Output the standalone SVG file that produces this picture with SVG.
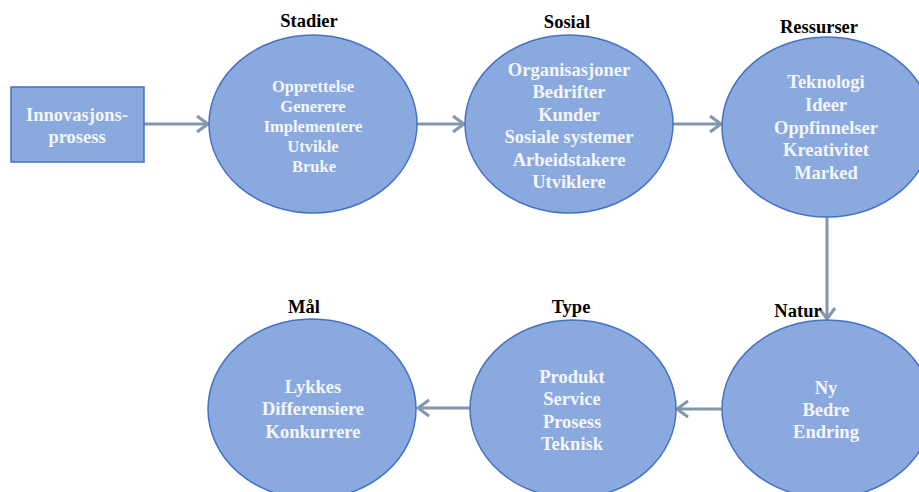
<svg xmlns="http://www.w3.org/2000/svg" width="919" height="492" viewBox="0 0 919 492">
<defs>
<marker id="arr" markerUnits="userSpaceOnUse" markerWidth="16" markerHeight="20" refX="12" refY="9" orient="auto" overflow="visible">
<path d="M1,1 L12,9 L1,17" fill="none" stroke="#8595AD" stroke-width="3" stroke-linejoin="miter"/>
</marker>
</defs>
<style>
.shape{fill:#8AA9DF;stroke:#4472C4;stroke-width:1.5}
.in{font-family:"Liberation Serif",serif;font-weight:bold;font-size:18.5px;fill:#F4F6FA;text-anchor:middle}
.sm{font-size:16.5px}
.lab{font-family:"Liberation Serif",serif;font-weight:bold;font-size:18.5px;fill:#000;text-anchor:middle}
.con{stroke:#8595AD;stroke-width:3;fill:none;marker-end:url(#arr)}
</style>
<rect width="919" height="492" fill="#fff"/>
<g id="connectors">
<line class="con" x1="144" y1="124" x2="208" y2="124"/>
<line class="con" x1="417" y1="124" x2="464" y2="124"/>
<line class="con" x1="673" y1="124" x2="721" y2="124"/>
<line class="con" x1="827" y1="217" x2="827" y2="319"/>
<line class="con" x1="722" y1="409" x2="677" y2="409"/>
<line class="con" x1="470" y1="408" x2="418" y2="408"/>
</g>
<g id="start">
<rect class="shape" x="11" y="87" width="133" height="75"/>
<text class="in" x="77" y="121">Innovasjons-</text>
<text class="in" x="77" y="143">prosess</text>
</g>
<g id="stadier">
<ellipse class="shape" cx="313" cy="124" rx="104" ry="89"/>
<text class="lab" x="309" y="27">Stadier</text>
<text class="in sm" x="313" y="92">Opprettelse</text>
<text class="in sm" x="313" y="112">Generere</text>
<text class="in sm" x="313" y="132">Implementere</text>
<text class="in sm" x="313" y="152">Utvikle</text>
<text class="in sm" x="314" y="172">Bruke</text>
</g>
<g id="sosial">
<ellipse class="shape" cx="569" cy="124" rx="104" ry="89"/>
<text class="lab" x="567" y="28">Sosial</text>
<text class="in" x="569" y="76">Organisasjoner</text>
<text class="in" x="569" y="98">Bedrifter</text>
<text class="in" x="569" y="121">Kunder</text>
<text class="in" x="569" y="143">Sosiale systemer</text>
<text class="in" x="569" y="166">Arbeidstakere</text>
<text class="in" x="569" y="188">Utviklere</text>
</g>
<g id="ressurser">
<ellipse class="shape" cx="827" cy="127" rx="105" ry="90"/>
<text class="lab" x="819" y="33">Ressurser</text>
<text class="in" x="826" y="88">Teknologi</text>
<text class="in" x="826" y="111">Ideer</text>
<text class="in" x="826" y="134">Oppfinnelser</text>
<text class="in" x="826" y="156">Kreativitet</text>
<text class="in" x="826" y="179">Marked</text>
</g>
<g id="natur">
<ellipse class="shape" cx="827" cy="409" rx="105" ry="89"/>
<text class="lab" x="798" y="317">Natur</text>
<text class="in" x="826" y="394">Ny</text>
<text class="in" x="826" y="416">Bedre</text>
<text class="in" x="826" y="438">Endring</text>
</g>
<g id="type">
<ellipse class="shape" cx="573" cy="409" rx="103" ry="89"/>
<text class="lab" x="571" y="313">Type</text>
<text class="in" x="572" y="383">Produkt</text>
<text class="in" x="572" y="405">Service</text>
<text class="in" x="572" y="428">Prosess</text>
<text class="in" x="572" y="450">Teknisk</text>
</g>
<g id="maal">
<ellipse class="shape" cx="312" cy="409" rx="104" ry="90"/>
<text class="lab" x="304" y="313">Mål</text>
<text class="in" x="313" y="393">Lykkes</text>
<text class="in" x="313" y="415">Differensiere</text>
<text class="in" x="313" y="438">Konkurrere</text>
</g>
</svg>
